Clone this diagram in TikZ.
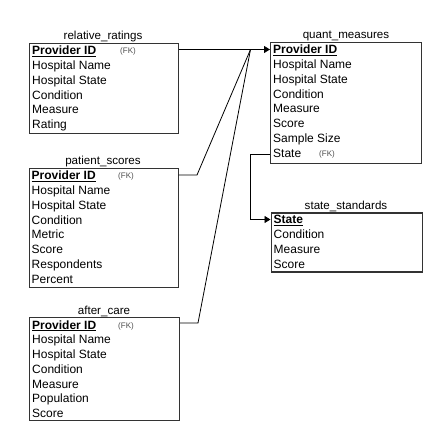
\documentclass[tikz,border=0pt]{standalone}
\usepackage{fontspec}
\setmainfont{Liberation Sans}
\usetikzlibrary{arrows.meta}
\tikzset{
  box/.style={draw=black!80, line width=1.1pt, anchor=north west, inner sep=0pt, minimum width=#1},
  box/.default=149pt,
  row/.style={anchor=base west, inner sep=0pt, font=\fontsize{12}{14}\selectfont, xshift=1pt},
  ttl/.style={anchor=base, inner sep=0pt, font=\fontsize{11.6}{14}\selectfont},
  fk/.style={anchor=base west, inner sep=0pt, font=\fontsize{8}{9}\selectfont, text=black!70},
  conn/.style={draw=black, line width=0.8pt},
  arr/.style={conn, -{Triangle[length=6pt,width=7pt]}}
}
\newcommand{\pk}[1]{\underline{\textbf{#1}}}
\begin{document}
\begin{tikzpicture}[x=1pt,y=-1pt]
\useasboundingbox (0,0) rectangle (447,446);
% relative_ratings
\node[box, minimum height=90pt] (rr) at (29,43) {};
\node[ttl] (rrt) at (103,40) {relative\_ratings};
\node[row] (rr1) at (31,55) {\pk{Provider ID}};
\node[fk] (rrfk) at (120,54) {(FK)};
\node[row] (rr2) at (31,69.75) {Hospital Name};
\node[row] (rr3) at (31,84.5) {Hospital State};
\node[row] (rr4) at (31,99.25) {Condition};
\node[row] (rr5) at (31,114) {Measure};
\node[row] (rr6) at (31,128.75) {Rating};
% patient_scores
\node[box, minimum height=119pt] (ps) at (28.5,168) {};
\node[ttl] (pst) at (103,165) {patient\_scores};
\node[row] (ps1) at (30.5,180) {\pk{Provider ID}};
\node[fk] (psfk) at (118,179) {(FK)};
\node[row] (ps2) at (30.5,194.75) {Hospital Name};
\node[row] (ps3) at (30.5,209.5) {Hospital State};
\node[row] (ps4) at (30.5,224.25) {Condition};
\node[row] (ps5) at (30.5,239) {Metric};
\node[row] (ps6) at (30.5,253.75) {Score};
\node[row] (ps7) at (30.5,268.5) {Respondents};
\node[row] (ps8) at (30.5,283.25) {Percent};
% after_care
\node[box=150pt, minimum height=103pt] (ac) at (29,317) {};
\node[ttl] (act) at (104,314) {after\_care};
\node[row] (ac1) at (31,329) {\pk{Provider ID}};
\node[fk] (acfk) at (118,328) {(FK)};
\node[row] (ac2) at (31,343.75) {Hospital Name};
\node[row] (ac3) at (31,358.5) {Hospital State};
\node[row] (ac4) at (31,373.25) {Condition};
\node[row] (ac5) at (31,388) {Measure};
\node[row] (ac6) at (31,402.75) {Population};
\node[row] (ac7) at (31,417.5) {Score};
% quant_measures
\node[box=151pt, minimum height=121pt] (qm) at (270,42) {};
\node[ttl] (qmt) at (346,39) {quant\_measures};
\node[row] (qm1) at (272,54) {\pk{Provider ID}};
\node[row] (qm2) at (272,68.75) {Hospital Name};
\node[row] (qm3) at (272,83.5) {Hospital State};
\node[row] (qm4) at (272,98.25) {Condition};
\node[row] (qm5) at (272,113) {Measure};
\node[row] (qm6) at (272,127.75) {Score};
\node[row] (qm7) at (272,142.5) {Sample Size};
\node[row] (qm8) at (272,157.25) {State};
\node[fk] (qmfk) at (319,156.5) {(FK)};
% state_standards
\node[box=151pt, minimum height=59pt] (ss) at (270.5,212.5) {};
\node[ttl] (sst) at (346,209.5) {state\_standards};
\node[row] (ss1) at (272.5,224) {\pk{State}};
\node[row] (ss2) at (272.5,238.75) {Condition};
\node[row] (ss3) at (272.5,253.5) {Measure};
\node[row] (ss4) at (272.5,268.25) {Score};
% connectors
\coordinate (hub) at (250.5,49.5);
\coordinate (psk) at (197,175);
\coordinate (ack) at (198,323);
\coordinate (stk) at (250.5,154);
\coordinate (stk2) at (250.5,219.5);
\draw[conn] (rr.east |- hub) -- (hub);
\draw[conn] (ps.east |- psk) -- (psk) -- (hub);
\draw[conn] (ac.east |- ack) -- (ack) -- (hub);
\draw[arr] (hub) -- (qm.west |- hub);
\draw[arr] (qm.west |- stk) -- (stk) -- (stk2) -- (ss.west |- stk2);
\end{tikzpicture}
\end{document}
